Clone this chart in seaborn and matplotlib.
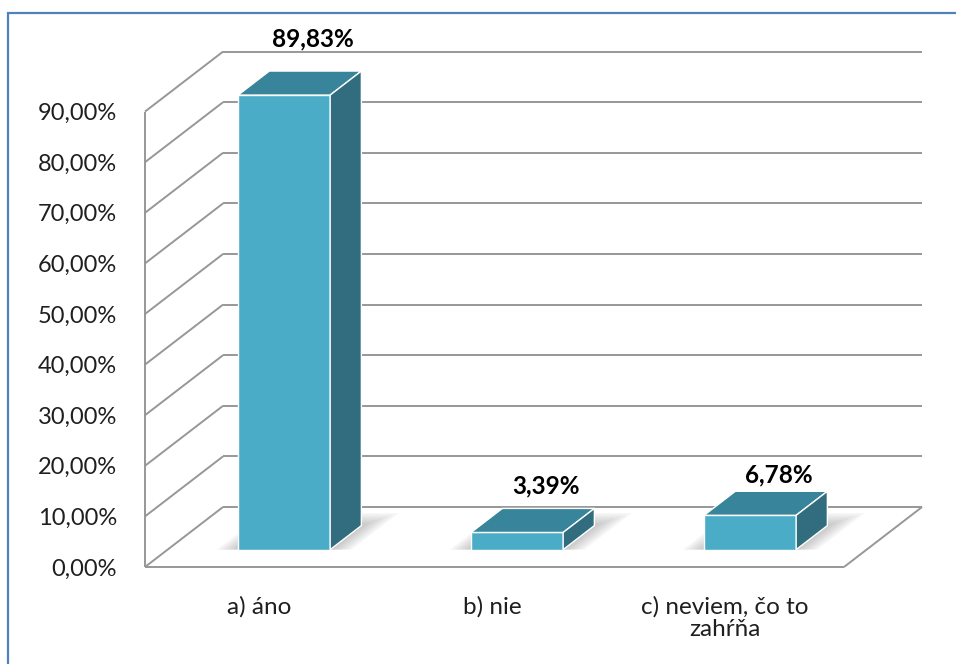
import matplotlib
matplotlib.use("Agg")
import matplotlib.pyplot as plt
from matplotlib.patches import Polygon, Rectangle
import pandas as pd
import seaborn as sns

# survey answers and their shares (%)
categories = ["a) áno", "b) nie", "c) neviem, čo to\nzahŕňa"]
shares = [89.83, 3.39, 6.78]
value_labels = ["89,83%", "3,39%", "6,78%"]
axis_ticks = [0, 10, 20, 30, 40, 50, 60, 70, 80, 90]
axis_tick_labels = ["0,00%", "10,00%", "20,00%", "30,00%", "40,00%",
                    "50,00%", "60,00%", "70,00%", "80,00%", "90,00%"]

# colours
FRONT = "#4AACC6"
TOP = "#38849A"
SIDE = "#316D7E"
GRID = "#979797"
TEXT = "#1f1f1f"
FRAME = "#4F81BD"

# oblique 3-D box: depth d runs 0 (front floor edge) .. 1 (back wall)
BAR_PLANE = 0.29      # depth of the bar fronts
BAR_DEPTH = 0.40      # thickness of a bar in depth units
DX = 0.335            # horizontal shift per unit of depth (category units)
DY = 11.86            # vertical shift per unit of depth (percent units)
PX_PER_CAT = 233.0
PX_PER_PCT = 5.06

W, H = 956, 664
LEFT_PX, FLOOR_PX = 145, 567


def proj(x, v, d):
    """Map (category position, value, depth) onto the bar-front plane."""
    return x + (d - BAR_PLANE) * DX, v + (d - BAR_PLANE) * DY


sns.set_theme(style="white")
plt.rcParams["font.family"] = ["Lato", "DejaVu Sans"]

fig = plt.figure(figsize=(W / 100, H / 100), dpi=100)
fig.patch.set_facecolor("white")
ax = fig.add_axes([LEFT_PX / W, (H - FLOOR_PX) / H,
                   (W - LEFT_PX) / W, FLOOR_PX / H])
ax.set_facecolor("none")

df = pd.DataFrame({"odpoveď": categories, "podiel": shares})
sns.barplot(data=df, x="odpoveď", y="podiel", color=FRONT, saturation=1,
            width=0.395, edgecolor="white", linewidth=1.0, ax=ax, zorder=4)

n = len(categories)
x_lo, x_hi = -0.5, n - 0.5
line_kw = dict(color=GRID, lw=1.4, clip_on=False, zorder=1,
               solid_capstyle="butt")

# left wall, back wall gridlines and floor
ax.plot(*zip(proj(x_lo, 0, 0), proj(x_lo, axis_ticks[-1], 0)), **line_kw)
for t in axis_ticks:
    ax.plot(*zip(proj(x_lo, t, 0), proj(x_lo, t, 1)), **line_kw)
    ax.plot(*zip(proj(x_lo, t, 1), proj(x_hi, t, 1)), **line_kw)
ax.plot(*zip(proj(x_lo, 0, 0), proj(x_hi, 0, 0)), **line_kw)
ax.plot(*zip(proj(x_hi, 0, 0), proj(x_hi, 0, 1)), **line_kw)

bx, by = BAR_DEPTH * DX, BAR_DEPTH * DY
bars = list(ax.patches)
for i, p in enumerate(bars):
    x0, w, h = p.get_x(), p.get_width(), p.get_height()
    # soft floor shadow
    for k in range(1, 8):
        e = 0.013 * k
        ed = 0.03 * k
        sh = [proj(x0 - e, 0, BAR_PLANE), proj(x0 + w + e, 0, BAR_PLANE),
              proj(x0 + w + e, 0, BAR_PLANE + BAR_DEPTH + ed),
              proj(x0 - e, 0, BAR_PLANE + BAR_DEPTH + ed)]
        ax.add_patch(Polygon(sh, closed=True, facecolor="#6e6e6e",
                             edgecolor="none", alpha=0.06, zorder=2,
                             clip_on=False))
    top = [(x0, h), (x0 + w, h), (x0 + w + bx, h + by), (x0 + bx, h + by)]
    side = [(x0 + w, 0), (x0 + w + bx, by), (x0 + w + bx, h + by), (x0 + w, h)]
    ax.add_patch(Polygon(top, closed=True, facecolor=TOP, edgecolor="white",
                         lw=1.0, zorder=5, clip_on=False, joinstyle="round"))
    ax.add_patch(Polygon(side, closed=True, facecolor=SIDE, edgecolor="white",
                         lw=1.0, zorder=5, clip_on=False, joinstyle="round"))

# value labels above the bars
label_lift = [9.7, 7.8, 6.4]
for i, (v, lab) in enumerate(zip(shares, value_labels)):
    ax.text(i + 0.125, v + label_lift[i], lab, ha="center", va="baseline",
            fontsize=17.5, fontweight="bold", color="black", zorder=6)

ax.set_xlim(proj(x_lo, 0, 0)[0], proj(x_lo, 0, 0)[0] + (W - LEFT_PX) / PX_PER_CAT)
ax.set_ylim(proj(0, 0, 0)[1], proj(0, 0, 0)[1] + FLOOR_PX / PX_PER_PCT)

# category names on the front edge of the floor
label_gap = 29 / PX_PER_PCT
for i, name in enumerate(categories):
    fx, fy = proj(i, 0, 0)
    ax.text(fx - 0.01, fy - label_gap, name, ha="center", va="top",
            multialignment="center", linespacing=1.1, fontsize=17.5,
            color=TEXT, clip_on=False)

ax.set_yticks([proj(x_lo, t, 0)[1] for t in axis_ticks], axis_tick_labels)
ax.set_xticks([])
ax.tick_params(axis="y", length=0, pad=20, labelsize=17, labelcolor=TEXT)
ax.set_xlabel("")
ax.set_ylabel("")
for s in ax.spines.values():
    s.set_visible(False)

# blue frame round the chart
fig.add_artist(Rectangle((8 / W, -0.5), 2.0, (H - 13) / H + 0.5,
                         transform=fig.transFigure, fill=False,
                         edgecolor=FRAME, lw=1.6))

fig.savefig("out.png", dpi=100)
